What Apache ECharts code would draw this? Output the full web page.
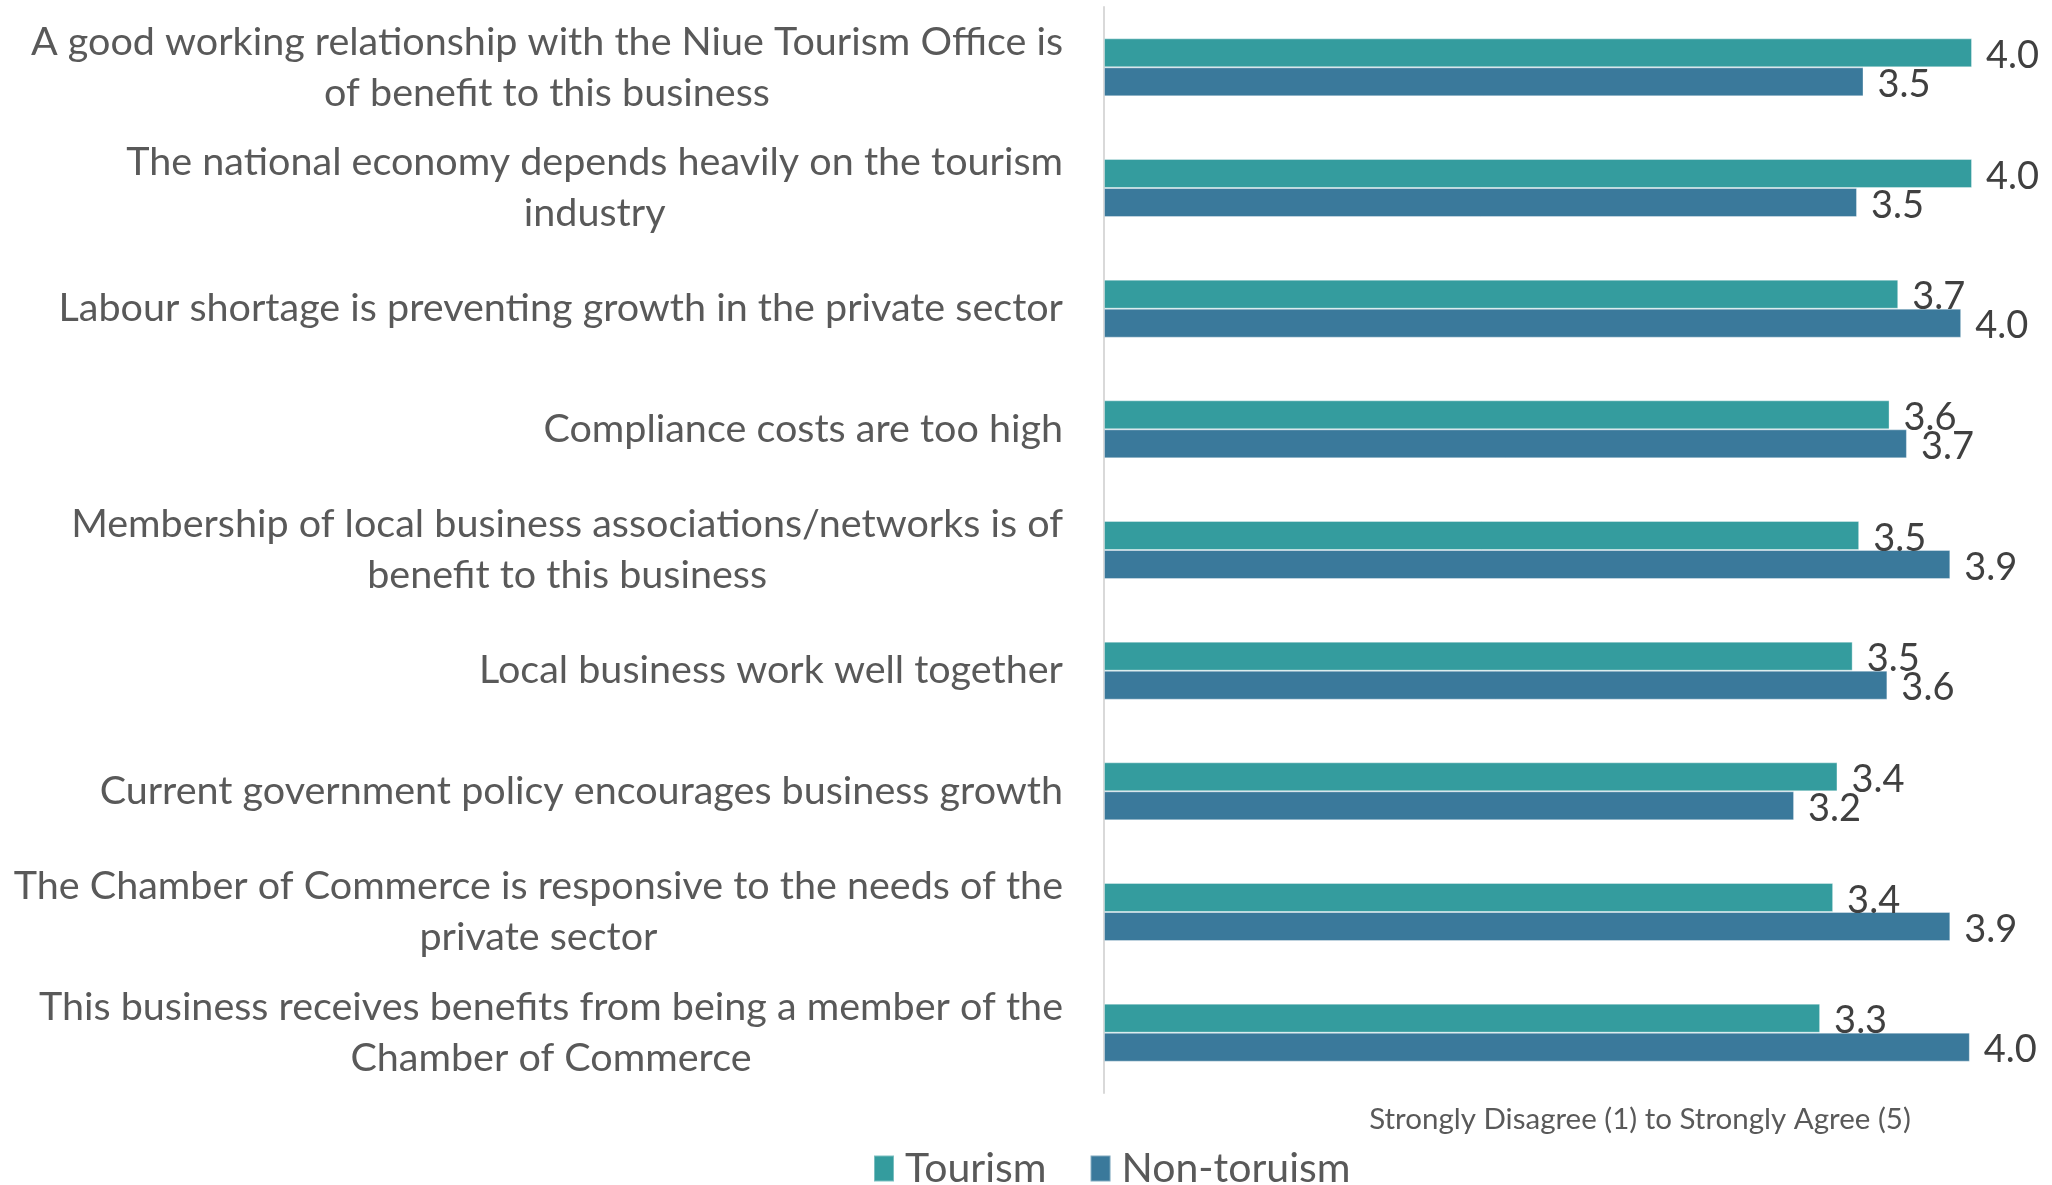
<!DOCTYPE html>
<html>
<head>
<meta charset="utf-8">
<script src="https://cdn.jsdelivr.net/npm/echarts@6/dist/echarts.min.js"></script>
<style>
  html, body { margin: 0; padding: 0; background: #fff; }
  #chart { width: 2052px; height: 1185px; }
</style>
</head>
<body>
<div id="chart"></div>
<script>
// Survey statements (top to bottom)
const categories = [
  "A good working relationship with the Niue Tourism Office is\nof benefit to this business",
  "The national economy depends heavily on the tourism\nindustry",
  "Labour shortage is preventing growth in the private sector",
  "Compliance costs are too high",
  "Membership of local business associations/networks is of\nbenefit to this business",
  "Local business work well together",
  "Current government policy encourages business growth",
  "The Chamber of Commerce is responsive to the needs of the\nprivate sector",
  "This business receives benefits from being a member of the\nChamber of Commerce"
];

// Mean agreement scores, 1 = strongly disagree, 5 = strongly agree
const tourism    = [4.00, 4.00, 3.66, 3.62, 3.48, 3.45, 3.38, 3.36, 3.30];
const nonTourism = [3.50, 3.47, 3.95, 3.70, 3.90, 3.61, 3.18, 3.90, 3.99];

const seriesNames = ["Tourism", "Non-toruism"];
const axisTitle = "Strongly Disagree (1) to Strongly Agree (5)";

const FONT = "Lato";
const colors = ["#349c9e", "#3a799b"];

const chart = echarts.init(document.getElementById("chart"), null, { renderer: "canvas" });

const valueLabel = {
  show: true,
  position: "right",
  distance: 14,
  offset: [0, 3],
  fontFamily: FONT,
  fontSize: 38,
  color: "#404040",
  formatter: p => p.value.toFixed(1)
};

chart.setOption({
  animation: false,
  backgroundColor: "#ffffff",
  color: colors,
  grid: { left: 1104, right: 80, top: 7, bottom: 92, containLabel: false },
  xAxis: {
    type: "value",
    min: 0,
    max: 4,
    show: false
  },
  yAxis: {
    type: "category",
    inverse: true,
    data: categories,
    axisLine: { show: true, lineStyle: { color: "#d9d9d9", width: 2 } },
    axisTick: { show: false },
    splitLine: { show: false },
    axisLabel: {
      margin: 41,
      align: "right",
      fontFamily: FONT,
      fontSize: 39.5,
      lineHeight: 51,
      color: "#595959",
      formatter: v => v.split("\n").map(s => "{c|" + s + "}").join("\n"),
      rich: {
        c: { align: "center", fontFamily: FONT, fontSize: 39.5, lineHeight: 51, color: "#595959" }
      }
    }
  },
  legend: {
    data: seriesNames,
    left: 873,
    top: 1148,
    icon: "rect",
    itemWidth: 20,
    itemHeight: 26,
    itemGap: 43,
    padding: 0,
    textStyle: { fontFamily: FONT, fontSize: 41, color: "#595959", padding: [0, 0, 0, 6] }
  },
  graphic: [{
    type: "text",
    x: 1640,
    y: 1119,
    style: {
      text: axisTitle,
      fontFamily: FONT,
      fontSize: 29.5,
      fill: "#595959",
      textAlign: "center",
      textVerticalAlign: "middle"
    }
  }],
  series: [
    {
      name: seriesNames[0],
      type: "bar",
      data: tourism,
      barWidth: 29,
      barGap: "0%",
      itemStyle: { color: colors[0], borderColor: "rgba(255,255,255,0.35)", borderWidth: 1 },
      label: valueLabel
    },
    {
      name: seriesNames[1],
      type: "bar",
      data: nonTourism,
      barWidth: 29,
      barGap: "0%",
      itemStyle: { color: colors[1], borderColor: "rgba(255,255,255,0.35)", borderWidth: 1 },
      label: valueLabel
    }
  ]
});
</script>
</body>
</html>
